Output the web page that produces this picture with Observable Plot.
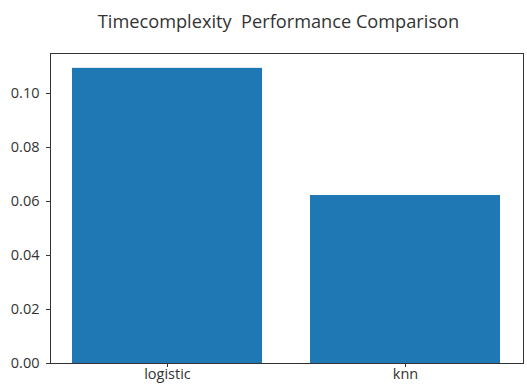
<!DOCTYPE html>
<html><head><meta charset="utf-8">
<script src="https://cdn.jsdelivr.net/npm/d3@7"></script>
<script src="https://cdn.jsdelivr.net/npm/@observablehq/plot@0.6"></script>
<style>
body{margin:0;background:#fff;font-family:"Open Sans",sans-serif;}
#title{height:40px;width:557px;margin-left:0;text-align:center;font-size:18.2px;line-height:42px;color:#333;white-space:pre;}
svg{display:block;}
</style></head><body>
<div id="title">Timecomplexity  Performance Comparison</div>
<div id="chart"></div>
<script>
const models = ["logistic", "knn"];
const times = [0.1093, 0.0622];
const yTicks = [0, 0.02, 0.04, 0.06, 0.08, 0.10];
const data = models.map((m, i) => ({model: m, time: times[i]}));
const chart = Plot.plot({
  width: 527, height: 345,
  marginTop: 13, marginBottom: 22, marginLeft: 50, marginRight: 4,
  style: {fontFamily: "Open Sans, sans-serif", fontSize: "14.5px", color: "#333", background: "#fff"},
  x: {domain: models, paddingInner: 0.2, paddingOuter: 0.09, label: null, tickSize: 4, tickPadding: 1},
  y: {domain: [0, 0.1148], ticks: yTicks, tickFormat: d3.format(".2f"), label: null, tickSize: 4, tickPadding: 7},
  marks: [
    Plot.barY(data, {x: "model", y: "time", fill: "#1f77b4"}),
    Plot.frame({stroke: "#333"})
  ]
});
document.getElementById("chart").appendChild(chart);
</script>
</body></html>
